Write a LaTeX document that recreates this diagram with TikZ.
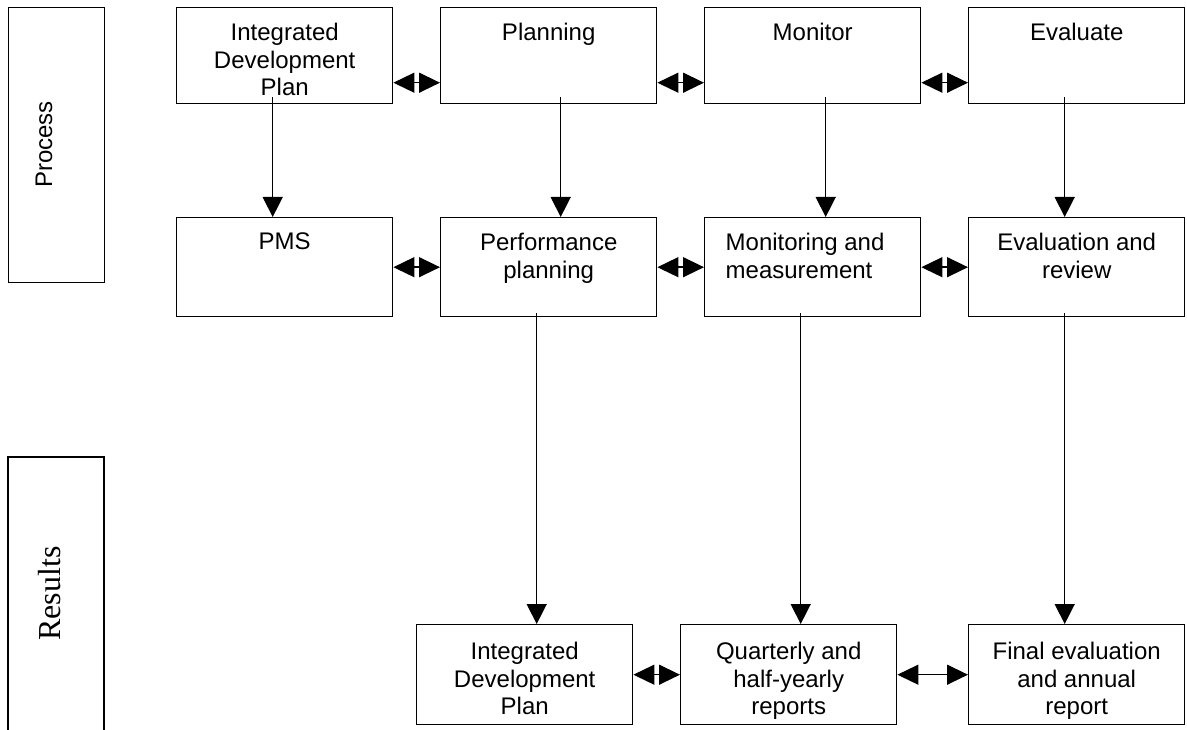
\documentclass[tikz,border=0pt]{standalone}
\usepackage{fontspec}
\setmainfont{Liberation Sans}
\newfontfamily\serifface{Liberation Serif}
\usetikzlibrary{arrows.meta,calc}

% text block of a process box: fixed height, first baseline set by a strut
\newcommand{\boxtext}[3]{\parbox[c][#1][t]{216pt}{\centering\rule{0pt}{#2}#3}}
\newcommand{\boxtextleft}[3]{\parbox[c][#1][t]{216pt}{\raggedright\leftskip=21pt\rule{0pt}{#2}#3}}

\tikzset{
  box/.style={draw, line width=1.4pt, inner sep=0pt, anchor=north west,
              minimum width=216pt, font=\fontsize{24pt}{27.5pt}\selectfont},
  flow/.style={line width=1.4pt, -{Triangle[length=20pt,width=20pt]}},
  link/.style={line width=1.4pt,
               {Triangle[length=21pt,width=20pt]}-{Triangle[length=21pt,width=20pt]}},
  sidelabel/.style={rotate=90, anchor=base, inner sep=0pt},
}

\begin{document}
\begin{tikzpicture}[x=1pt,y=-1pt]
\useasboundingbox (0,0) rectangle (1187,730);

% side headings
\node[draw, line width=1.4pt, inner sep=0pt, anchor=north west,
      minimum width=96pt, minimum height=275pt] (procbox) at (8,7) {};
\node[sidelabel, font=\fontsize{24pt}{27.5pt}\selectfont] (proclabel) at (52,144.5) {Process};
\draw[line width=1.4pt] (8,732) -- (8,457) -- (104,457) -- (104,732);
\node[sidelabel, font=\serifface\fontsize{32pt}{36pt}\selectfont] (reslabel) at (60,593.5) {Results};

% process row
\node[box] (idp)  at (176,7) {\boxtext{96pt}{33pt}{Integrated\\Development\\Plan}};
\node[box] (plan) at (440,7) {\boxtext{96pt}{33pt}{Planning}};
\node[box] (mon)  at (704,7) {\boxtext{96pt}{33pt}{Monitor}};
\node[box] (eval) at (968,7) {\boxtext{96pt}{33pt}{Evaluate}};

% performance management row
\node[box] (pms)    at (176,217) {\boxtext{99pt}{32pt}{PMS}};
\node[box] (perf)   at (440,217) {\boxtext{99pt}{33pt}{Performance\\planning}};
\node[box] (meas)   at (704,217) {\boxtextleft{99pt}{33pt}{Monitoring and\\measurement}};
\node[box] (review) at (968,217) {\boxtext{99pt}{33pt}{Evaluation and\\review}};

% results row
\node[box] (idp3)  at (416,624) {\boxtext{100pt}{35pt}{Integrated\\Development\\Plan}};
\node[box] (qrep)  at (680,624) {\boxtext{100pt}{35pt}{Quarterly and\\half-yearly\\reports}};
\node[box] (final) at (968,624) {\boxtext{100pt}{35pt}{Final evaluation\\and annual\\report}};

% vertical flows
\draw[flow] ([xshift=-12pt,yshift=7pt]idp.south)  -- ([xshift=-12pt]pms.north);
\draw[flow] ([xshift=12pt,yshift=7pt]plan.south)  -- ([xshift=12pt]perf.north);
\draw[flow] ([xshift=13pt,yshift=7pt]mon.south)   -- ([xshift=13pt]meas.north);
\draw[flow] ([xshift=-12pt,yshift=7pt]eval.south) -- ([xshift=-12pt]review.north);

\draw[flow] ([xshift=-12pt,yshift=4pt]perf.south)   -- ([xshift=12pt]idp3.north);
\draw[flow] ([xshift=-12pt,yshift=4pt]meas.south)   -- ([xshift=12pt]qrep.north);
\draw[flow] ([xshift=-12pt,yshift=4pt]review.south) -- ([xshift=-12pt]final.north);

% horizontal two-way links
\draw[link] ([yshift=-27pt]idp.east)  -- ([yshift=-27pt]plan.west);
\draw[link] ([yshift=-27pt]plan.east) -- ([yshift=-27pt]mon.west);
\draw[link] ([yshift=-27pt]mon.east)  -- ([yshift=-27pt]eval.west);

\draw[link] (pms.east)  -- (perf.west);
\draw[link] (perf.east) -- (meas.west);
\draw[link] (meas.east) -- (review.west);

\draw[link] (idp3.east) -- (qrep.west);
\draw[link] (qrep.east) -- (final.west);
\end{tikzpicture}
\end{document}
